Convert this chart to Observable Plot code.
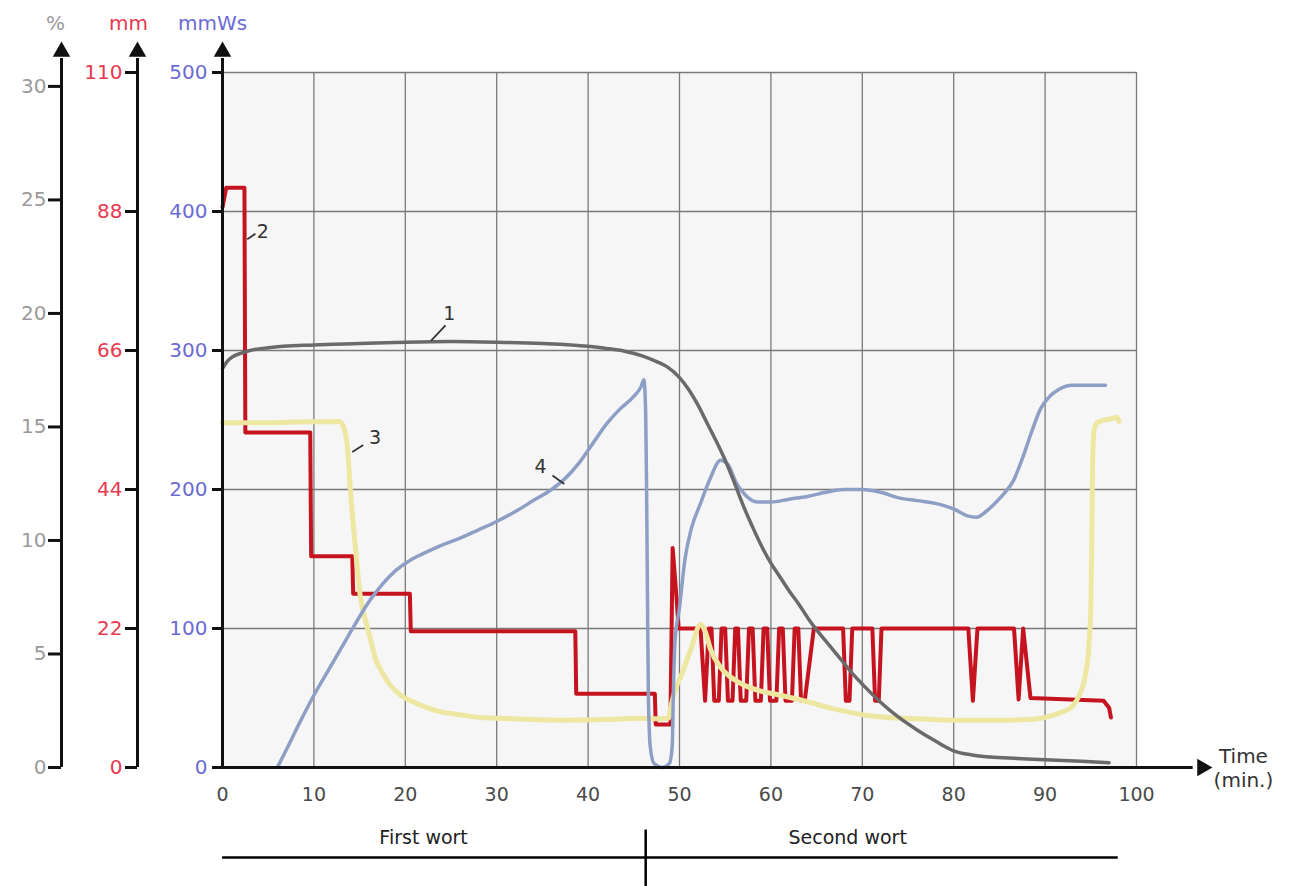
<!DOCTYPE html>
<html>
<head>
<meta charset="utf-8">
<script src="https://cdn.jsdelivr.net/npm/d3@7"></script>
<script src="https://cdn.jsdelivr.net/npm/@observablehq/plot@0.6"></script>
<style>
  html, body { margin: 0; padding: 0; background: #ffffff; }
  #chart svg { display: block; }
</style>
</head>
<body>
<div id="chart"></div>
<script>
// ---------- tick labels ----------
const xTicks = [0, 10, 20, 30, 40, 50, 60, 70, 80, 90, 100];
const mmWsTicks = [0, 100, 200, 300, 400, 500];
const mmTicks = [0, 22, 44, 66, 88, 110];
const pctTicks = [0, 5, 10, 15, 20, 25, 30];
// axis correspondences (top tick of each secondary axis in mmWs units)
const mmTop = 110, mmTopInMmWs = 500;
const pctTop = 30, pctTopInMmWs = 490;

// ---------- series (time in min, value in mmWs units) ----------
// 1: grey curve
const series1 = [[0,287],[0.5,292],[1,295],[2,298],[3,300],[5,302],[10,304],[15,305],[20,306],[25,306.5],[30,306],[35,305],[40,303],[42,301.5],[44,299.5],[46,296],[47.5,292],[48.7,288],[50,280.5],[51,272],[52,261],[53,248],[54,235],[55,221],[56,205],[57,188],[58,173],[59,159],[60,147],[61,137],[62,127],[63,118],[64,108],[65,99],[66,91],[67,83],[68,75],[69,67],[70,60],[72,47],[74,36],[76,27],[78,19],[80,12],[82,9],[84,7.5],[87,6.5],[90,5.5],[94,4.5],[97,3.5]];
// 2: red step line
const series2 = [[0,403],[0.4,417],[2.4,417],[2.5,241],[9.6,241],[9.7,152],[14.2,152],[14.3,125],[20.5,125],[20.6,98],[38.6,98],[38.7,53],[47.3,53],[47.4,31],[49.0,31],[49.25,158],[49.7,120],[49.9,100],[52.3,100],
  [52.8,48],[53.2,100],[53.5,100],[53.8,48],[54.3,48],[54.6,100],[55.0,100],[55.3,48],[55.8,48],[56.1,100],[56.4,100],[56.7,48],[57.3,48],[57.6,100],[58.0,100],[58.3,48],[58.9,48],[59.2,100],[59.6,100],[59.9,48],[60.6,48],[60.9,100],[61.3,100],[61.6,48],[62.3,48],[62.6,100],[63.0,100],[63.3,48],[63.7,48],[64.7,100],
  [67.9,100],[68.2,48],[68.6,48],[68.9,100],[71.1,100],[71.4,48],[71.8,48],[72.1,100],
  [81.6,100],[82.1,48],[82.6,100],[86.6,100],[87.1,49],[87.6,100],[88.4,50],[96.4,48],[97.0,43],[97.2,36]];
// 3: pale yellow curve
const series3 = [[0,248],[4,248],[8,248.5],[12.8,249],[13.3,244],[13.7,228],[14.0,199],[14.5,161],[15.1,122],[15.6,107],[16.2,92],[16.7,79],[17.5,68],[18.4,59],[19.5,52],[20.6,48],[22,44],[23.9,40],[26,38],[28.2,36],[32,35],[37,34],[42,34.5],[45.7,35.5],[47,35],[48.8,35.5],[49.1,45],[49.5,55],[50.3,68],[51.3,86],[52.3,103],[52.8,98],[53.4,85],[54.5,72],[55.4,66],[56.3,62],[57.5,58],[58.9,55],[61,52],[63.6,48],[67,42],[70,38],[72.8,36],[76,35],[80,34],[85,34],[88,34.5],[90,36],[91.5,39],[92.8,43],[93.8,53],[94.4,66],[94.8,88],[95.0,115],[95.1,160],[95.2,220],[95.35,242],[95.7,248],[96.5,250],[97.3,251],[97.8,252],[98.1,249]];
// 4: blue-grey curve
const series4 = [[6.0,0],[7,13],[8.5,33],[10,52],[11.5,69],[13,86],[14.5,103],[16,119],[17.5,132],[19,142],[20.5,149],[22,154],[24,160],[26,165],[28,171],[30,177],[32,184],[34,192],[36,200],[37.5,208],[39,219],[40.5,233],[42,247],[43.5,258],[45,267],[45.8,274],[46.1,279],[46.3,255],[46.4,200],[46.5,120],[46.6,50],[46.8,15],[47.2,3],[48.1,0],[48.9,3],[49.2,15],[49.35,60],[49.5,90],[50.0,115],[50.6,150],[51.3,172],[52.3,190],[53.3,207],[54.5,221],[55.3,218],[56.2,205],[57.2,196],[58.5,191],[60,191],[62,193],[64,195],[66,198],[68,200],[70,200],[72,198],[74,194],[76,192],[78,190],[80,186],[81.5,181],[82.5,180],[83.5,184],[84.5,190],[85.5,197],[86.5,206],[87.5,222],[88.5,241],[89.5,258],[90.5,267],[91.5,272],[93,275],[96.6,275]];

// ---------- annotations ----------
const curveLabels = [
  {label: "1", t: 24.8, v: 326},
  {label: "2", t: 4.4, v: 385},
  {label: "3", t: 16.7, v: 237},
  {label: "4", t: 34.8, v: 216}
];
const leaders = [
  {t1: 22.8, v1: 307, t2: 24.4, v2: 318},
  {t1: 2.7, v1: 380, t2: 3.6, v2: 384},
  {t1: 14.2, v1: 227, t2: 15.4, v2: 232},
  {t1: 36.1, v1: 210, t2: 37.4, v2: 204}
];
const sections = [
  {name: "First wort", t: 22},
  {name: "Second wort", t: 68.4}
];
const sectionDivider = 46.3;
const sectionEnd = 98;
const timeLabel = "Time\n(min.)";
const axisArrowTop = 515;   // mmWs units, where the axis arrowheads sit
const axisLineTop = 510;
const xArrowAt = 107.2;

const rows = a => a.map(([t, v]) => ({t, v}));

const axisStroke = "#111";
const chart = Plot.plot({
  width: 1291,
  height: 886,
  marginLeft: 222,
  marginRight: 155,
  marginTop: 72,
  marginBottom: 119,
  x: {domain: [0, 100], label: null},
  y: {domain: [0, 500], label: null},
  style: {fontFamily: "'DejaVu Sans', sans-serif", fontSize: "18px", background: "#ffffff", color: "#222"},
  marks: [
    Plot.frame({fill: "#f6f6f6", stroke: "none"}),
    Plot.gridX(xTicks.slice(1), {stroke: "#7a7a7a", strokeOpacity: 1, strokeWidth: 1.3}),
    Plot.gridY(mmWsTicks.slice(1), {stroke: "#7a7a7a", strokeOpacity: 1, strokeWidth: 1.3}),

    Plot.line(rows(series2), {x: "t", y: "v", stroke: "#c5141f", strokeWidth: 4}),
    Plot.line(rows(series3), {x: "t", y: "v", stroke: "#eee7a2", strokeWidth: 5, curve: "monotone-x"}),
    Plot.line(rows(series4), {x: "t", y: "v", stroke: "#8e9fc6", strokeWidth: 3.5, curve: "monotone-x"}),
    Plot.line(rows(series1), {x: "t", y: "v", stroke: "#6a6a6a", strokeWidth: 3.5, curve: "monotone-x"}),

    Plot.link(leaders, {x1: "t1", y1: "v1", x2: "t2", y2: "v2", stroke: "#333", strokeWidth: 1.8}),
    Plot.text(curveLabels, {x: "t", y: "v", text: "label", fill: "#333", fontSize: 19}),

    // axes
    Plot.axisY(mmWsTicks, {anchor: "left", tickSize: 10, tickPadding: 5, fill: "#6b6bd2", stroke: axisStroke, strokeWidth: 3, fontSize: 20, tickFormat: d => String(d)}),
    Plot.axisY(mmTicks.map(m => m * mmTopInMmWs / mmTop), {anchor: "left", dx: -85, tickSize: 12, tickPadding: 3, fill: "#e8394f", stroke: axisStroke, strokeWidth: 3, fontSize: 20, tickFormat: d => String(Math.round(d * mmTop / mmTopInMmWs))}),
    Plot.axisY(pctTicks.map(p => p * pctTopInMmWs / pctTop), {anchor: "left", dx: -161, tickSize: 13, tickPadding: 2, fill: "#9a9a9a", stroke: axisStroke, strokeWidth: 3, fontSize: 20, tickFormat: d => String(Math.round(d * pctTop / pctTopInMmWs))}),
    Plot.axisX(xTicks, {tickSize: 0, tickPadding: 20, fill: "#4a4a4a", fontSize: 19}),

    Plot.ruleX([0], {y1: 0, y2: axisLineTop, stroke: axisStroke, strokeWidth: 3}),
    Plot.ruleX([0], {y1: 0, y2: axisLineTop, dx: -85, stroke: axisStroke, strokeWidth: 3}),
    Plot.ruleX([0], {y1: 0, y2: axisLineTop, dx: -161, stroke: axisStroke, strokeWidth: 3}),
    Plot.ruleY([0], {x1: 0, x2: xArrowAt - 1, stroke: axisStroke, strokeWidth: 3}),
    Plot.dot([0], {x: 0, y: axisArrowTop, symbol: "triangle", r: 6.5, fill: axisStroke, stroke: "none"}),
    Plot.dot([0], {x: 0, y: axisArrowTop, dx: -85, symbol: "triangle", r: 6.5, fill: axisStroke, stroke: "none"}),
    Plot.dot([0], {x: 0, y: axisArrowTop, dx: -161, symbol: "triangle", r: 6.5, fill: axisStroke, stroke: "none"}),
    Plot.dot([0], {x: xArrowAt, y: 0, rotate: 90, symbol: "triangle", r: 6.5, fill: axisStroke, stroke: "none"}),

    // axis headers
    Plot.text(["%"], {x: 0, y: 535, text: d => d, dx: -167, fill: "#999", fontSize: 20}),
    Plot.text(["mm"], {x: 0, y: 535, text: d => d, dx: -94, fill: "#e8394f", fontSize: 20}),
    Plot.text(["mmWs"], {x: 0, y: 535, text: d => d, dx: -10, fill: "#6b6bd2", fontSize: 20}),
    Plot.text([timeLabel], {x: 111.7, y: 0, text: d => d, fill: "#333", fontSize: 20, lineHeight: 1.2}),

    // bottom sections
    Plot.text(sections, {x: "t", y: -51, text: "name", fill: "#222", fontSize: 19}),
    Plot.ruleY([-64.7], {x1: 0, x2: sectionEnd, stroke: "#000", strokeWidth: 2.5}),
    Plot.ruleX([sectionDivider], {y1: -45, y2: -86, stroke: "#000", strokeWidth: 2.5})
  ]
});
document.getElementById("chart").appendChild(chart);
</script>
</body>
</html>
